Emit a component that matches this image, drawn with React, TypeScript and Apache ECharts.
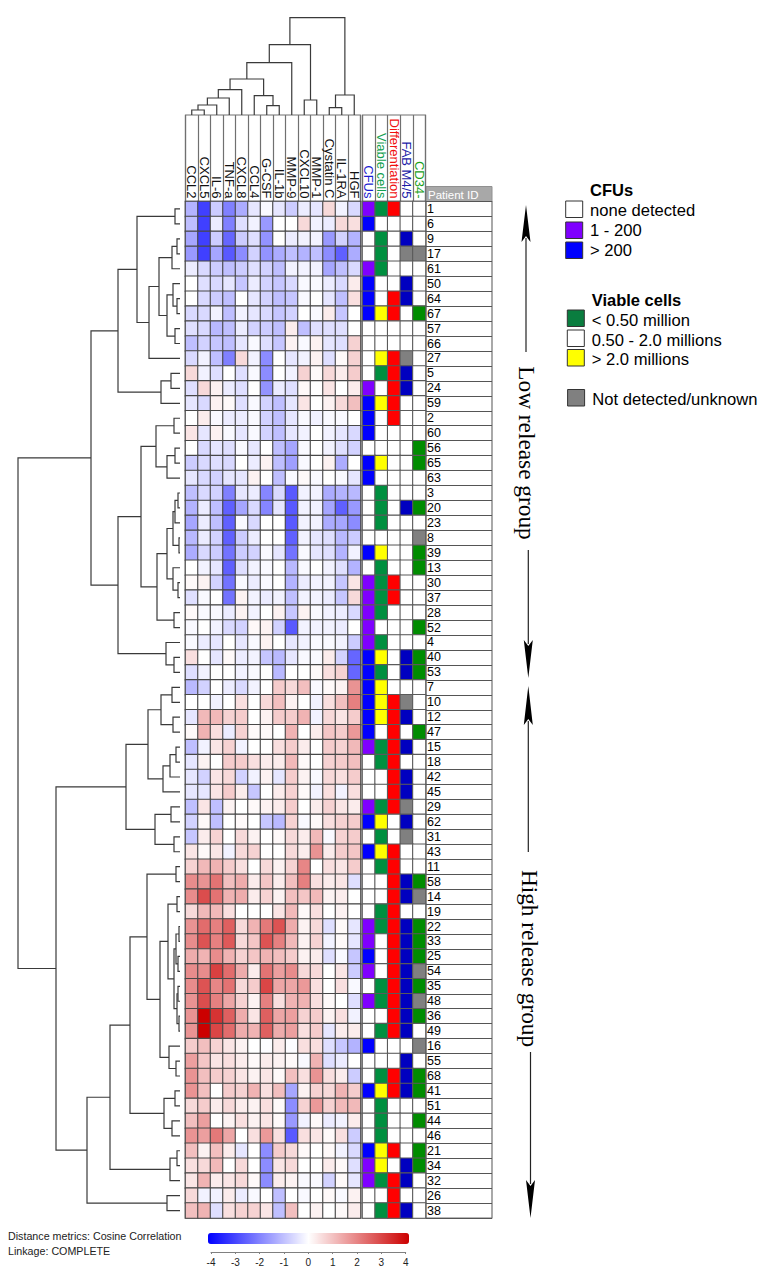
import React, { useEffect, useRef } from "react";
import * as echarts from "echarts";

const FONT = '"Liberation Sans", Arial, sans-serif';
const SERIF = '"Liberation Serif", "Times New Roman", serif';

const cytokines = ["CCL2","CXCL5","IL-6","TNF-a","CXCL8","CCL4","G-CSF","IL-1b","MMP-9","CXCL10","MMP-1","Cystatin C","IL-1RA","HGF"];
const annotationNames = ["CFUs","Viable cells","Differentiation","FAB M4/5","CD34-"];
const annotationNameColors = ["#1c1cd0","#12a050","#f01010","#1c1ca8","#18a018"];
const patientIds = ["1","6","9","17","61","50","64","67","57","66","27","5","24","59","2","60","56","65","63","3","20","23","8","39","13","30","37","28","52","4","40","53","7","10","12","47","15","18","42","45","29","62","31","43","11","58","14","19","22","33","25","54","35","48","36","49","16","55","68","41","51","44","46","21","34","32","26","38"];

const heatValues: number[][] = [
[-1.2,-3,-0.8,-2,-1.3,-0.4,-0.1,-0.4,-0.8,-0.3,-0.4,0.6,-0.2,-0.6],
[-1,-3,-0.3,-2,-0.5,-0.2,-1.6,0,0,0.6,-0.2,-0.3,0.6,0.5],
[-1.4,-3,-0.8,-2.4,-0.8,-0.5,-1.7,0,-0.3,-0.2,-0.2,-1.6,-0.7,-1.2],
[-1.6,-3,-1.4,-2.6,-1.8,-0.7,-1.7,-1.3,-1,-1.2,-1,-1.8,-2.5,-1.3],
[-0.3,-0.6,-0.8,-1,-0.8,-0.5,-0.7,-1,-0.2,-0.2,-0.2,-1.4,-1,-0.6],
[0,-0.5,-0.6,-0.4,-0.9,-0.3,-0.7,-0.9,-0.6,-0.1,-0.1,-0.3,-0.6,0.3],
[0,-0.6,-0.8,-1,0,-0.4,-0.7,-1,-0.9,-0.1,0,-0.4,-1,0.5],
[-0.6,-0.6,-0.2,-1,-0.2,-0.4,-0.6,-0.9,-0.7,0,-0.1,0.3,-0.9,0],
[-0.5,-0.6,-1.1,-1,-0.3,-0.7,-0.8,-1,0.3,-1,-0.5,-0.5,-0.5,0],
[-1,-0.7,-0.9,-1,-0.4,-0.1,-0.5,-0.9,0.2,-0.1,0.2,-0.4,-0.5,0.7],
[-0.6,-0.2,-1,-2,0.6,-0.2,-1.8,0,-0.4,-0.2,0.2,-0.5,0.1,0.7],
[0.6,-0.2,-0.5,0,-0.5,-0.1,-1.8,0,-0.2,0.7,0.1,0.6,0.3,0.8],
[-0.5,0.6,0.2,-0.3,-0.5,0,-1.7,-0.3,-0.5,0.1,0,0.4,0,0.3],
[-0.4,-0.6,0.2,0.1,-0.5,-0.1,-0.7,-1,-0.4,0.4,0,0.2,0.6,1],
[0,0.3,-0.1,-0.3,-0.3,-0.1,-0.7,-1,-0.4,-0.1,-0.2,-0.1,-0.1,0],
[0.4,-0.4,0.2,-0.1,-0.4,-0.1,-0.7,-1,-0.4,-0.2,0,-0.2,-0.4,-0.6],
[0,-0.6,-0.4,-0.5,-0.1,-0.4,0,-1,-1.4,-0.1,0,-0.2,-0.5,-0.7],
[-0.8,-0.6,-0.5,-0.6,0,-0.3,0.2,-1,-1.5,-0.1,0,0.2,-1.3,0],
[-0.4,-0.6,-0.7,-0.4,-0.4,0.2,0,-1,-0.1,0.1,-0.1,0,-0.1,-0.4],
[-1,-0.6,-0.7,-2,-0.4,-0.3,-1.9,-0.6,-2.6,-0.2,-0.2,-1.3,-1.2,-1.1],
[-1.2,-0.3,-1,-2.5,-1.4,-0.6,-1.9,-0.4,-2.6,-0.2,-0.2,-1.4,-2.5,-1.6],
[-1.4,-0.3,-1,-2.5,-0.1,-0.6,0,0,-2.6,-0.2,-0.2,-1.3,-1.4,-1.8],
[-1.1,-0.3,-0.7,-2.5,-0.8,-0.3,0,0,-2.5,-0.2,-0.4,-0.5,-1.1,-0.8],
[-1.3,-0.6,-0.8,-2.2,-0.8,-0.7,-0.1,-0.4,-2.2,-0.1,-0.4,-0.5,-1.2,-0.2],
[0,-0.2,-0.4,-2.5,-0.5,-0.2,-0.1,0,-1.1,-0.1,0,-0.2,-0.5,-1.2],
[0.1,0.2,-0.7,-2.2,-0.1,-0.3,-0.1,0,-1.2,-0.3,-0.2,-0.2,-0.9,0.4],
[-0.5,-0.1,0,-2.2,0.2,-0.2,-0.3,-0.2,-1,-0.2,-0.2,-0.3,-0.9,0.6],
[0.1,-0.1,-0.1,-0.3,0.2,-0.2,0,0.2,-0.9,0.2,-0.1,-0.2,-0.3,-0.6],
[-0.1,0,-0.2,-0.6,-0.7,0.1,0.2,-0.7,-2.6,-0.2,-0.2,-0.2,-0.3,0],
[-0.1,-0.3,-0.4,0,-0.4,-0.1,0.2,0,-0.4,-0.2,-0.1,-0.1,-0.2,-0.8],
[0.5,0,-0.4,0.1,-0.3,-0.2,-0.9,-1.1,-0.4,-0.1,-0.1,0.3,-0.7,-2.4],
[-0.5,-0.2,0,0,-0.2,-0.1,0,-1.1,0,0,0.1,0.5,0.7,-2.4],
[-1.1,-0.7,0,-0.3,-0.6,-0.2,0,0.8,0.6,1,-0.1,0.1,0.2,1.7],
[0,0,-0.2,0,0.5,0,0.6,1,0.2,0,-0.2,0.5,1,2],
[-0.4,1.1,1.1,0.7,0.8,0,0.2,0.8,0.8,1.2,-0.2,0.6,0.4,0.8],
[0.1,1.2,0.5,-0.3,0.7,0.1,0.1,0,1.2,0,0.3,0.9,0.8,1.6],
[-1,-0.2,0.4,0.7,-0.2,0,0,0.5,0.8,0.3,0,0.8,0.7,1.1],
[-0.4,0.2,0,0.8,0.8,0.5,0.3,0.3,1.1,0.1,0,0.7,0.8,1],
[-0.4,-0.7,0.4,0.6,-0.7,-0.2,0.2,-0.4,0.8,0.2,-0.1,0.6,0.5,0.8],
[-0.4,-0.4,0.4,0.8,0.3,-0.9,0,0.3,0.7,0.1,-0.2,0.5,-0.2,0.5],
[-1,0.4,-1,0.2,0,0.1,0.2,0.3,0.8,0,0.3,0.7,0.4,0.3],
[-0.7,0.1,-1,0,0.1,0,-0.9,-1.1,0.7,-0.1,0.1,0.5,0.7,0.8],
[-0.9,0.3,0.7,0,0.6,0.2,0,0.1,0.6,0.3,1.1,-0.1,0.7,0.8],
[0.4,0.1,0.4,-0.2,0.6,0.7,0,0,0.6,0.3,1.7,0.3,0.8,0.9],
[0.7,1.1,1.2,0.8,0.5,0,0.6,0.2,0.7,1.9,0,0.5,0.4,0.8],
[1.8,1.7,2.2,1,1.3,0.3,0.9,0.3,1,2,0.5,0.3,0.4,-0.5],
[1.8,2.8,2.2,1.2,1.3,0.3,0.7,0.2,1,0.9,1.1,0.2,0.3,0],
[0.6,1.1,1.1,0.5,0,0,0,0.4,1.1,0.1,0.5,0,0.2,0],
[1.7,2.3,2,2.5,0.6,1.2,2.1,2.7,1.3,0.2,0.6,-0.5,0.1,-0.4],
[1.8,2.7,2,2.6,0.6,0.9,2.7,2,1.1,0.2,0.7,-0.2,0.1,-0.4],
[1.3,1.2,1.8,1.2,0.7,0.9,1.2,1,0.8,0.2,0.3,-0.5,-0.1,-0.9],
[1.8,1.8,3,2.3,1.3,0.3,2.2,1.5,1.8,0.6,0.6,0,0.4,-0.8],
[1.8,2.7,1.9,2.2,0.6,0.8,2.9,1.4,1.4,1.6,0.5,0,0.5,-0.1],
[1.7,2.8,2,1.4,0.7,0.2,2,0.5,1.2,1.2,0.5,0.1,0,-0.5],
[1.7,4,3.2,2.5,1.3,0.4,2.5,1.4,1.5,0.7,0.8,0.2,0.5,-0.2],
[1.7,4,2.9,2.3,1.3,1.2,2.5,1.3,1.5,0.5,0.8,-0.4,0.3,0.3],
[0.8,1,0.7,0.4,0.2,0,-0.05,0.3,-0.05,0.5,0.5,-0.5,-0.9,-1.2],
[1.5,0.9,0.4,0.5,0.3,0.1,0.3,0.2,0.1,-0.1,1.2,-0.5,-0.3,0],
[1.7,1,0.8,0.7,0.4,0.2,0.4,0.1,1,0.5,1.7,0.5,0.3,-0.8],
[1.7,1,0,0.8,0.7,1.2,0.5,1,-1.4,0.2,0.7,0.6,1.2,0.8],
[0.6,0.8,0.3,0.6,0.3,0.2,0.5,0.1,-1.8,0.7,1.6,0.7,1.1,1.1],
[1,1.5,0,0.2,0.5,0.2,0.4,0.1,-1.6,-0.2,0.1,-0.3,-0.2,0.3],
[1.7,1.5,2.1,1.4,0,0.5,1.6,0.5,-2.6,0.5,0.4,0.1,0.5,-0.8],
[1,0.2,1,0.3,-0.4,0,-1.8,0.8,0.6,0.1,0,0.1,-0.2,-0.6],
[0.5,0.6,1.1,0,0.6,0,-1.8,0.4,0.6,0,0,0.3,0.1,-0.5],
[0.4,1.2,0.3,0.4,0.6,0.1,-1.8,0.3,0.2,-0.1,-0.1,-0.7,0.1,-0.4],
[0.6,-0.2,-0.2,0.3,-0.3,-0.1,0,-1,0,-0.1,0,0.1,-0.1,0.2],
[1,1.2,-0.5,0.5,0.7,0.7,0.4,-1,1,0,0.2,0,0.1,0.3],
];

// one letter per annotation column, in patient order
const annotationRows = ["PGR..","B....",".G.D.",".G.XX","PG...","B..D.","B.RD.","BYR.C",".....",".....",".YRX.",".GRD.","P.RD.","BYR..","B.R..","B....","....C","BY..C","B....",".G...",".G.DC",".G...","....X","BY..C",".G..C","PGR..","PGR..","PG...","P...C","PG...","BY.DC","BG.DC","BY...","BYRX.","BYRD.","B.R.C","PGRD.",".GR..","..RD.","..RD.","PGRX.","BY.D.",".G.X.","BYR..",".GR..","..RDC","..RDX",".GR..","PGRDC","P.RDC","B.RDC","P.RDX",".GRDC","PGRDX","..RDC",".GRD.","B...X","...D.",".GRDC","BYRDC",".G...",".G..C",".G...","BYR.C","PY.DC","PGRD.","..R..",".GRD."];

const annotationCodes = [".","P","B","G","Y","R","D","X","C"];
const annotationColors = ["#ffffff","#7f00ff","#0000ff","#008f3f","#ffff00","#ff0000","#0000c0","#808080","#008c00"];

type Tree = number | [number, Tree, Tree];

// [distance from the leaves, child, child]; leaves are row / column positions
const rowTree: Tree = [162,
  [89,
    [62,
      [43, [5,0,1],
        [31,
          [21,
            [8,[3,2,3],4],
            [13,[7,5,[3,6,7]],[5,8,9]]],
          10]],
      [19,[9,11,12],13]],
    [62,
      [39,
        [24,[6,14,15],[13,[5,16,17],18]],
        [23,
          [13,
            [7,[5,[2,19,20],21],[1,22,23]],
            [7,24,[2,25,26]]],
          [6,27,28]]],
      [14,29,[6,30,31]]]],
  [124,
    [54,
      [32,
        [19,[8,32,33],[7,34,35]],
        [17,[10,[4,36,37],38],39]],
      [25,[9,40,41],[6,42,43]]],
    [93,
      [70,
        [50,
          [33,
            [4,44,45],
            [20,
              [12,
                [3,46,47],
                [6,
                  [4,[1,48,49],[2,50,51]],
                  [3,[2,52,53],[1,54,55]]]],
              [11,56,[4,57,58]]]],
          [16,[5,59,60],[8,61,62]]],
        [10,[3,63,64],65]],
      [13,66,67]]]];

const columnTree: Tree = [97.3,
  [70.3,
    [52.3,
      [36,
        [25.3,[17,[10,[5,0,1],2],3],4],
        [19.3,5,[9.3,6,7]]],
      8],
    [15,9,10]],
  [20,[7.3,11,12],13]];

type Merge = [number, number, number, number, number];

function collectMerges(tree: Tree, out: Merge[]): [number, number] {
  if (typeof tree === "number") return [tree + 0.5, 0];
  const [p1, h1] = collectMerges(tree[1], out);
  const [p2, h2] = collectMerges(tree[2], out);
  out.push([p1, h1, p2, h2, tree[0]]);
  return [(p1 + p2) / 2, tree[0]];
}

const rowMerges: Merge[] = [];
collectMerges(rowTree, rowMerges);
const columnMerges: Merge[] = [];
collectMerges(columnTree, columnMerges);

const legendGroups = [
  { title: "CFUs", x: 565.7, tx: 590, ty: 190, items: [["none detected", "#ffffff", 201, 210], ["1 - 200", "#7f00ff", 222, 230], ["> 200", "#0000ff", 242, 250]] },
  { title: "Viable cells", x: 567.3, tx: 591.7, ty: 300, items: [["< 0.50 million", "#0a7d3f", 310, 320], ["0.50 - 2.0 millions", "#ffffff", 330, 340], ["> 2.0 millions", "#ffff00", 349.5, 359]] },
  { title: "", x: 567.6, tx: 592.3, ty: 0, items: [["Not detected/unknown", "#808080", 389.5, 399]] },
];

const HEAT_LEFT = 185.5, HEAT_TOP = 201.5, HEAT_W = 175, HEAT_H = 1016.5;
const ANN_LEFT = 362.5, ANN_W = 63;
const ID_LEFT = 426, ID_W = 66;

function arrow(x: number, tip: number, base: number, y2: number) {
  const dir = base > tip ? 1 : -1;
  return [
    { type: "line", shape: { x1: x, y1: base - dir * 4, x2: x, y2 }, style: { stroke: "#222", lineWidth: 1.2 } },
    { type: "polygon", shape: { points: [[x, tip], [x + 4.5, base], [x, base - dir * 6], [x - 4.5, base]] }, style: { fill: "#000" } },
  ];
}

function dendroItem(flip: boolean) {
  return (_p: any, api: any) => {
    const pt = (pos: number, h: number) => api.coord(flip ? [h, pos] : [pos, h]);
    const p1 = api.value(0), h1 = api.value(1), p2 = api.value(2), h2 = api.value(3), h = api.value(4);
    return {
      type: "polyline",
      shape: { points: [pt(p1, h1), pt(p1, h), pt(p2, h), pt(p2, h2)] },
      style: { fill: "none", stroke: "#3a3a3a", lineWidth: 1.2 },
      silent: true,
    };
  };
}

export default function App() {
  const ref = useRef<HTMLDivElement>(null);
  useEffect(() => {
    const chart = echarts.init(ref.current!, undefined, { renderer: "svg" });
    const heatData: number[][] = [];
    heatValues.forEach((row, y) => row.forEach((v, x) => heatData.push([x, y, v])));
    const annData: number[][] = [];
    annotationRows.forEach((row, y) => row.split("").forEach((c, x) => annData.push([x, y, annotationCodes.indexOf(c)])));

    const legendEls: any[] = [];
    legendGroups.forEach((g) => {
      if (g.title) legendEls.push({ type: "text", x: g.tx, y: g.ty, style: { text: g.title, font: `bold 16.5px ${FONT}`, fill: "#000", verticalAlign: "middle" } });
      g.items.forEach((it: any) => {
        legendEls.push({ type: "rect", shape: { x: g.x, y: it[2], width: 17, height: 16.5 }, style: { fill: it[1], stroke: "#333", lineWidth: 1 } });
        legendEls.push({ type: "text", x: g.tx, y: it[3], style: { text: it[0], font: `16.6px ${FONT}`, fill: "#000", verticalAlign: "middle" } });
      });
    });

    const option: any = {
      animation: false,
      backgroundColor: "#fff",
      textStyle: { fontFamily: FONT },
      grid: [
        { left: HEAT_LEFT, top: HEAT_TOP, width: HEAT_W, height: HEAT_H, show: true, borderColor: "#707070", borderWidth: 1.5, backgroundColor: "#fff" },
        { left: HEAT_LEFT, top: 115, width: HEAT_W, height: 86.5, show: true, borderColor: "#707070", borderWidth: 1.2 },
        { left: ANN_LEFT, top: HEAT_TOP, width: ANN_W, height: HEAT_H, show: true, borderColor: "#707070", borderWidth: 1.5, backgroundColor: "#fff" },
        { left: ANN_LEFT, top: 115, width: ANN_W, height: 86.5, show: true, borderColor: "#707070", borderWidth: 1.2 },
        { left: ID_LEFT, top: HEAT_TOP, width: ID_W, height: HEAT_H, show: true, borderColor: "#707070", borderWidth: 1.2, backgroundColor: "#fff" },
        { left: HEAT_LEFT, top: 10, width: HEAT_W, height: 105 },
        { left: 18, top: HEAT_TOP, width: 162, height: HEAT_H },
        { left: 211, top: 1251, width: 194.7, height: 1 },
      ],
      xAxis: [
        { gridIndex: 0, type: "category", data: cytokines, position: "top", axisLine: { show: false }, axisTick: { show: false }, splitLine: { show: false },
          axisLabel: { rotate: 90, interval: 0, margin: 3, fontSize: 13, color: "#111", fontFamily: FONT } },
        { gridIndex: 1, type: "category", data: cytokines, axisLine: { show: false }, axisTick: { show: false }, axisLabel: { show: false }, splitLine: { show: true, interval: 0, lineStyle: { color: "#707070", width: 1.2 } } },
        { gridIndex: 2, type: "category", data: annotationNames, position: "top", axisLine: { show: false }, axisTick: { show: false }, splitLine: { show: false },
          axisLabel: { rotate: 90, interval: 0, margin: 3, fontSize: 13, fontFamily: FONT, color: (_v: string, i: number) => annotationNameColors[i] } },
        { gridIndex: 3, type: "category", data: annotationNames, axisLine: { show: false }, axisTick: { show: false }, axisLabel: { show: false }, splitLine: { show: true, interval: 0, lineStyle: { color: "#707070", width: 1.2 } } },
        { gridIndex: 4, type: "value", min: 0, max: 1, show: false },
        { gridIndex: 5, type: "value", min: 0, max: 14, show: false },
        { gridIndex: 6, type: "value", min: 0, max: 162, inverse: true, show: false },
        { gridIndex: 7, type: "value", min: -4, max: 4, interval: 1, position: "bottom", splitLine: { show: false },
          axisLine: { lineStyle: { color: "#808080", width: 1 } }, axisTick: { length: 2, lineStyle: { color: "#808080" } },
          axisLabel: { margin: 5, fontSize: 10, color: "#222", fontFamily: FONT } },
      ],
      yAxis: [
        { gridIndex: 0, type: "category", data: patientIds, inverse: true, show: false },
        { gridIndex: 1, type: "value", min: 0, max: 1, show: false },
        { gridIndex: 2, type: "category", data: patientIds, inverse: true, show: false },
        { gridIndex: 3, type: "value", min: 0, max: 1, show: false },
        { gridIndex: 4, type: "category", data: patientIds, inverse: true, axisLine: { show: false }, axisTick: { show: false },
          axisLabel: { inside: true, interval: 0, margin: 1, fontSize: 12.5, color: "#000", fontFamily: FONT, verticalAlign: "middle", padding: [3, 0, 0, 0] },
          splitLine: { show: true, interval: 0, lineStyle: { color: "#555", width: 1 } } },
        { gridIndex: 5, type: "value", min: 0, max: 105, show: false },
        { gridIndex: 6, type: "value", min: 0, max: 68, inverse: true, show: false },
        { gridIndex: 7, type: "value", show: false },
      ],
      visualMap: [
        { type: "continuous", seriesIndex: 0, min: -4, max: 4, orient: "horizontal", left: 208, top: 1233, itemWidth: 11, itemHeight: 201, text: ["", ""], calculable: false, realtime: false, hoverLink: false, showLabel: false,
          inRange: { color: ["#0000ff", "#ffffff", "#cc0000"] }, textStyle: { fontSize: 1, color: "#fff" }, padding: 0 },
        { type: "piecewise", seriesIndex: 1, show: false,
          pieces: annotationCodes.map((_c, i) => ({ value: i, color: annotationColors[i] })) },
      ],
      series: [
        { type: "heatmap", xAxisIndex: 0, yAxisIndex: 0, data: heatData, silent: true, itemStyle: { borderColor: "#484848", borderWidth: 1.1 }, emphasis: { disabled: true } },
        { type: "heatmap", xAxisIndex: 2, yAxisIndex: 2, data: annData, silent: true, itemStyle: { borderColor: "#5a5a5a", borderWidth: 1.1 }, emphasis: { disabled: true } },
        { type: "custom", xAxisIndex: 5, yAxisIndex: 5, data: columnMerges, renderItem: dendroItem(false), silent: true, clip: false },
        { type: "custom", xAxisIndex: 6, yAxisIndex: 6, data: rowMerges, renderItem: dendroItem(true), silent: true, clip: false },
      ],
      graphic: [
        { type: "rect", shape: { x: 426, y: 186.5, width: 66, height: 15 }, style: { fill: "#a8a8a8", stroke: "#909090", lineWidth: 1 } },
        { type: "text", x: 428, y: 194.5, style: { text: "Patient ID", font: `11.5px ${FONT}`, fill: "#fff", verticalAlign: "middle" } },
        ...legendEls,
        { type: "text", x: 8, y: 1236, style: { text: "Distance metrics: Cosine Correlation", font: `10.7px ${FONT}`, fill: "#222", verticalAlign: "middle" } },
        { type: "text", x: 8, y: 1251, style: { text: "Linkage: COMPLETE", font: `10.7px ${FONT}`, fill: "#222", verticalAlign: "middle" } },
        ...arrow(526, 205, 242, 352),
        { type: "text", x: 527, y: 453, rotation: -Math.PI / 2, style: { text: "Low release group", font: `23.3px ${SERIF}`, fill: "#000", align: "center", verticalAlign: "middle" } },
        ...arrow(528.3, 678, 640, 550),
        ...arrow(528.3, 686, 725, 852),
        { type: "text", x: 530, y: 958.5, rotation: -Math.PI / 2, style: { text: "High release group", font: `23.3px ${SERIF}`, fill: "#000", align: "center", verticalAlign: "middle" } },
        ...arrow(530.5, 1218, 1180, 1052),
      ],
    };
    chart.setOption(option);
    return () => chart.dispose();
  }, []);
  return <div ref={ref} style={{ position: "absolute", left: 0, top: 0, width: 764, height: 1274 }} />;
}
